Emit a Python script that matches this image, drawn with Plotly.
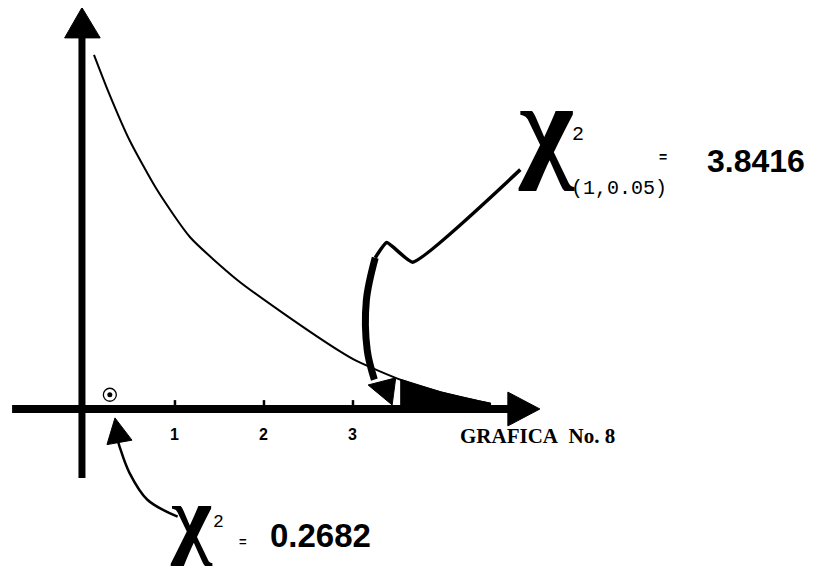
import plotly.graph_objects as go

# ---- data (chi-square units) ----
curve_x = [0.09, 0.25, 0.49, 0.80, 1.17, 1.70, 2.21, 2.85, 3.04, 3.53, 3.98, 4.40, 4.54]
curve_y = [3.98, 3.57, 3.02, 2.46, 1.93, 1.45, 1.08, 0.65, 0.54, 0.33, 0.19, 0.09, 0.06]
tick_vals = [1, 2, 3]
tick_text = ["1", "2", "3"]
chi_obs = 0.2682
chi_crit = 3.8416
shade_start = 3.53
title_text = "GRAFICA  No. 8"

# ---- figure ----
fig = go.Figure()

# shaded rejection region (taken from the curve points beyond shade_start)
idx = [i for i, v in enumerate(curve_x) if v >= shade_start]
sx = [curve_x[i] for i in idx] + [curve_x[idx[-1]], shade_start]
sy = [curve_y[i] for i in idx] + [0, 0]
fig.add_trace(go.Scatter(x=sx, y=sy, fill="toself", fillcolor="black",
                         mode="lines", line=dict(color="black", width=2),
                         hoverinfo="skip", showlegend=False))

# density curve
fig.add_trace(go.Scatter(x=curve_x, y=curve_y, mode="lines",
                         line=dict(color="black", width=2, shape="spline", smoothing=0.6),
                         hoverinfo="skip", showlegend=False))

# observed value marker (double circle)
fig.add_trace(go.Scatter(x=[chi_obs], y=[0.16], mode="markers",
                         marker=dict(symbol="circle-open", size=13, color="black", line=dict(width=1.3)),
                         hoverinfo="skip", showlegend=False))
fig.add_trace(go.Scatter(x=[chi_obs], y=[0.16], mode="markers",
                         marker=dict(symbol="circle", size=5, color="black"),
                         hoverinfo="skip", showlegend=False))

# pointer to critical value (thin upper part, thick curved lower part)
ptr_x1 = [4.88, 3.67, 3.38, 3.25]
ptr_y1 = [2.69, 1.65, 1.87, 1.70]
ptr_x2 = [3.25, 3.15, 3.16, 3.24]
ptr_y2 = [1.70, 1.22, 0.66, 0.33]
fig.add_trace(go.Scatter(x=ptr_x1, y=ptr_y1, mode="lines",
                         line=dict(color="black", width=3.5, shape="spline", smoothing=0.4),
                         hoverinfo="skip", showlegend=False))
fig.add_trace(go.Scatter(x=ptr_x2, y=ptr_y2, mode="lines",
                         line=dict(color="black", width=7, shape="spline"),
                         hoverinfo="skip", showlegend=False))

# pointer to observed value
ptr_x3 = [1.03, 0.69, 0.49, 0.38, 0.33]
ptr_y3 = [-1.21, -1.02, -0.72, -0.43, -0.25]
fig.add_trace(go.Scatter(x=ptr_x3, y=ptr_y3, mode="lines",
                         line=dict(color="black", width=2.5, shape="spline"),
                         hoverinfo="skip", showlegend=False))

shapes = []
# horizontal axis
shapes.append(dict(type="line", x0=-0.83, y0=0, x1=4.78, y1=0,
                   line=dict(color="black", width=8)))
shapes.append(dict(type="path", path="M 4.74,0.19 L 5.10,0.0 L 4.74,-0.19 Z",
                   fillcolor="black", line=dict(color="black", width=1)))
# vertical axis
shapes.append(dict(type="line", x0=-0.045, y0=-0.775, x1=-0.045, y1=4.2,
                   line=dict(color="black", width=7)))
shapes.append(dict(type="path", path="M -0.24,4.17 L -0.045,4.51 L 0.16,4.17 Z",
                   fillcolor="black", line=dict(color="black", width=1)))
# tick marks
for t in tick_vals:
    shapes.append(dict(type="line", x0=t, y0=0, x1=t, y1=0.10,
                       line=dict(color="black", width=2.5)))
# arrowheads of pointers
shapes.append(dict(type="path", path="M 3.17,0.27 L 3.48,0.35 L 3.44,0.045 Z",
                   fillcolor="black", line=dict(color="black", width=1)))
shapes.append(dict(type="path", path="M 0.326,-0.10 L 0.236,-0.40 L 0.517,-0.35 Z",
                   fillcolor="black", line=dict(color="black", width=1)))

annotations = []
for t, s in zip(tick_vals, tick_text):
    annotations.append(dict(x=t, y=-0.29, text="<b>%s</b>" % s, showarrow=False,
                            font=dict(family="Liberation Sans", size=16, color="black"),
                            xanchor="center", yanchor="middle"))

annotations.append(dict(x=5.07, y=-0.30, text="<b>%s</b>" % title_text.replace("  ", "&nbsp; "),
                        showarrow=False,
                        font=dict(family="Liberation Serif", size=21, color="black"),
                        xanchor="center", yanchor="middle"))

# top-right label
annotations.append(dict(x=5.17, y=3.17, text="<b>χ</b>", showarrow=False,
                        font=dict(family="Liberation Serif", size=118, color="black"),
                        xanchor="center", yanchor="middle"))
annotations.append(dict(x=5.53, y=3.08, text="2", showarrow=False,
                        font=dict(family="Liberation Mono", size=20, color="black"),
                        xanchor="center", yanchor="middle"))
annotations.append(dict(x=5.99, y=2.48, text="(1,0.05)", showarrow=False,
                        font=dict(family="Liberation Mono", size=20, color="black"),
                        xanchor="center", yanchor="middle"))
annotations.append(dict(x=6.48, y=2.83, text="<b>=</b>", showarrow=False,
                        font=dict(family="Liberation Sans", size=14, color="black"),
                        xanchor="center", yanchor="middle"))
annotations.append(dict(x=7.53, y=2.79, text="<b>%.4f</b>" % chi_crit, showarrow=False,
                        font=dict(family="Liberation Sans", size=32, color="black"),
                        xanchor="center", yanchor="middle"))

# bottom label
annotations.append(dict(x=1.19, y=-1.22, text="<b>χ</b>", showarrow=False,
                        font=dict(family="Liberation Serif", size=88, color="black"),
                        xanchor="center", yanchor="middle"))
annotations.append(dict(x=1.49, y=-1.27, text="2", showarrow=False,
                        font=dict(family="Liberation Mono", size=18, color="black"),
                        xanchor="center", yanchor="middle"))
annotations.append(dict(x=1.765, y=-1.49, text="<b>=</b>", showarrow=False,
                        font=dict(family="Liberation Sans", size=13, color="black"),
                        xanchor="center", yanchor="middle"))
annotations.append(dict(x=2.04, y=-1.42, text="<b>%.4f</b>" % chi_obs, showarrow=False,
                        font=dict(family="Liberation Sans", size=33, color="black"),
                        xanchor="left", yanchor="middle"))

fig.update_layout(
    width=799, height=558,
    margin=dict(l=0, r=0, t=0, b=0),
    paper_bgcolor="white", plot_bgcolor="white",
    xaxis=dict(range=[-0.876, 8.101], visible=False, fixedrange=True),
    yaxis=dict(range=[-1.764, 4.506], visible=False, fixedrange=True),
    shapes=shapes, annotations=annotations,
    showlegend=False,
)

fig.write_html("out.html")
